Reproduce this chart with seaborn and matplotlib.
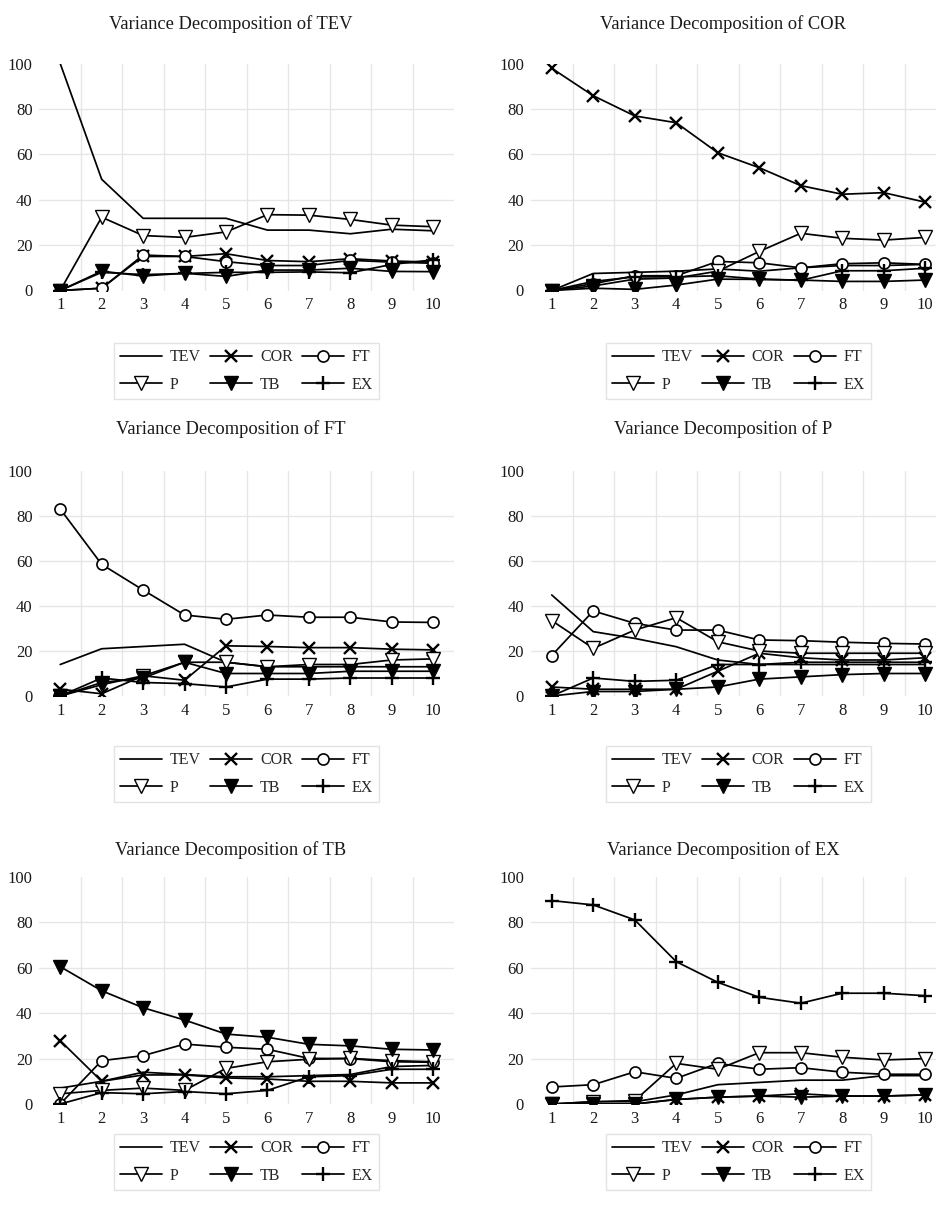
import matplotlib
matplotlib.use("Agg")
import matplotlib.pyplot as plt
import seaborn as sns

# ======================================================
# Data
# ======================================================

periods = [1, 2, 3, 4, 5, 6, 7, 8, 9, 10]
series = ["TEV", "COR", "FT", "P", "TB", "EX"]

vd_tev = {
    "TEV": [100, 49, 31.8, 31.8, 31.8, 26.6, 26.6, 25, 27, 26.3],
    "COR": [0, 1, 15, 15, 16.2, 13.2, 12.7, 14, 13, 12.5],
    "FT":  [0, 1, 15.6, 15, 12.7, 11, 11, 13.3, 12.5, 12],
    "P":   [0, 32.3, 24.2, 23.4, 25.8, 33.4, 33.2, 31.3, 28.8, 28.1],
    "TB":  [0, 8.5, 6.4, 7.6, 6.2, 9, 9, 9.8, 8.4, 8.3],
    "EX":  [0, 8, 7, 7.5, 8, 8, 8.2, 7.8, 11.5, 13.5],
}

vd_cor = {
    "TEV": [0, 7.5, 8, 8.5, 9.5, 8.5, 10, 11, 11, 11.5],
    "COR": [97.9, 85.8, 76.9, 73.9, 60.7, 54.1, 46.2, 42.4, 43.1, 38.9],
    "FT":  [0, 3, 6.5, 6.5, 12.8, 12.2, 10, 11.8, 12.2, 11.5],
    "P":   [0, 2, 5, 5.5, 8.5, 17.2, 25.2, 23, 22.2, 23.4],
    "TB":  [0, 1, 0.5, 2.4, 5, 4.9, 4.6, 4, 4, 4.6],
    "EX":  [0, 4, 6, 6, 6.5, 5, 4.5, 8.7, 8.7, 9.8],
}

vd_ft = {
    "TEV": [14, 21, 22, 23, 15, 13, 13, 13, 13, 13],
    "COR": [3, 1, 9, 7, 22.3, 22, 21.5, 21.5, 20.8, 20.5],
    "FT":  [83.1, 58.5, 47.1, 36, 34.1, 36, 35, 35, 32.9, 32.7],
    "P":   [0, 5, 9, 15, 15, 13, 14, 14, 16, 16.5],
    "TB":  [0, 6, 8, 15, 10, 10, 10, 11, 11, 11],
    "EX":  [0, 8, 6, 5.5, 4, 7.5, 7.5, 8, 8, 8],
}

vd_p = {
    "TEV": [44.9, 28.6, 25.6, 21.9, 16, 14, 14, 14, 14, 14],
    "COR": [4, 3, 3, 3, 11, 19, 17, 16, 16, 17],
    "FT":  [18, 37.8, 32.3, 29.3, 29.3, 24.9, 24.6, 23.9, 23.4, 23.1],
    "P":   [33.5, 21.2, 29.3, 34.8, 24.1, 20, 19, 19, 19, 19],
    "TB":  [0, 2, 2, 3, 4, 7.5, 8.5, 9.5, 10, 10],
    "EX":  [0, 8, 6.5, 7, 14, 14, 15, 15, 15, 15],
}

vd_tb = {
    "TEV": [7, 10, 14, 13, 12, 12, 12.5, 13, 16.5, 17],
    "COR": [27.9, 10, 12.8, 12.8, 11.5, 11, 10, 10, 9.3, 9.3],
    "FT":  [0, 19.1, 21.3, 26.4, 25, 24.1, 20.1, 20, 18.6, 18.4],
    "P":   [4.5, 6, 7, 6, 15.7, 18.6, 19.7, 20.1, 19.1, 18.6],
    "TB":  [60.5, 49.9, 42.4, 37, 30.8, 29.4, 26.3, 25.6, 24.1, 23.8],
    "EX":  [0, 5, 4.5, 5.5, 4.5, 6, 12, 12.5, 15.3, 15.3],
}

vd_ex = {
    "TEV": [0, 1, 1, 4, 8.5, 9.5, 10.5, 10.5, 12.5, 12.5],
    "COR": [0, 0, 0, 2, 3, 3.5, 4.5, 3.5, 3.5, 4],
    "FT":  [7.5, 8.5, 14.2, 11.3, 17.9, 15.3, 16, 14, 13.1, 13.1],
    "P":   [0, 1, 1.5, 17.9, 15.3, 22.6, 22.6, 20.6, 19.4, 20],
    "TB":  [0, 0, 0, 2, 3, 3.5, 3, 3.5, 3.5, 4],
    "EX":  [89.6, 87.7, 81.1, 62.7, 53.6, 47, 44.4, 48.8, 48.8, 47.7],
}

panels = [
    ("TEV", vd_tev), ("COR", vd_cor),
    ("FT", vd_ft), ("P", vd_p),
    ("TB", vd_tb), ("EX", vd_ex),
]

# ======================================================
# Styles
# ======================================================

sns.set_theme(style="white")
plt.rcParams["font.family"] = ["Liberation Serif", "DejaVu Serif"]

line_styles = {
    "TEV": dict(marker=None),
    "COR": dict(marker="x", markersize=8, markeredgewidth=1.7),
    "FT":  dict(marker="o", markersize=8, markerfacecolor="white", markeredgewidth=1.2),
    "P":   dict(marker="v", markersize=9.5, markerfacecolor="white", markeredgewidth=1.0),
    "TB":  dict(marker="v", markersize=9.5, markerfacecolor="black", markeredgewidth=1.0),
    "EX":  dict(marker="+", markersize=10, markeredgewidth=1.7),
}

W, H = 937, 1205
fig = plt.figure(figsize=(W / 100, H / 100), dpi=100)

# pixel layout: columns (left, right of plot area), rows (top, bottom, title baseline, legend top)
cols = [(39.5, 454), (531, 946)]
title_x = [231, 723]
rows = [
    (63.5, 290.5, 29, 335),
    (471, 696, 434, 738),
    (877, 1104, 855, 1126),
]

for i, (name, data) in enumerate(panels):
    r, c = divmod(i, 2)
    left, right = cols[c]
    top, bottom, t_y, leg_y = rows[r]

    ax = fig.add_axes([left / W, 1 - bottom / H, (right - left) / W, (bottom - top) / H])

    for s in series:
        sns.lineplot(
            x=periods,
            y=data[s],
            ax=ax,
            color="black",
            linewidth=1.25,
            markeredgecolor="black",
            label=s,
            **line_styles[s]
        )

    ax.set_xlim(0.5, 10.5)
    ax.set_ylim(0, 100)
    ax.set_xticks(periods)
    ax.set_yticks([0, 20, 40, 60, 80, 100])

    for yv in [20, 40, 60, 80]:
        ax.axhline(yv, color="#e6e6e6", linewidth=1, zorder=0)
    for xv in [1.5, 2.5, 3.5, 4.5, 5.5, 6.5, 7.5, 8.5, 9.5]:
        ax.axvline(xv, color="#e6e6e6", linewidth=1, zorder=0)

    sns.despine(ax=ax, left=True, bottom=True)
    ax.tick_params(length=0, labelsize=12, colors="#1a1a1a")
    ax.tick_params(axis="y", pad=5)
    ax.tick_params(axis="x", pad=5)
    ax.set_xlabel("")
    ax.set_ylabel("")

    handles = {l.get_label(): l for l in ax.get_lines() if l.get_label() in series}
    order = ["TEV", "P", "COR", "TB", "FT", "EX"]
    leg_off = (leg_y - bottom) / (bottom - top)
    leg = ax.legend(
        [handles[k] for k in order],
        order,
        ncol=3,
        loc="upper center",
        bbox_to_anchor=(0.5, -leg_off),
        frameon=True,
        fancybox=False,
        edgecolor="#dddddd",
        fontsize=11.5,
        handlelength=2.6,
        handletextpad=0.5,
        columnspacing=0.6,
        labelspacing=0.7,
        borderpad=0.4,
    )
    leg.get_frame().set_linewidth(1.0)

    fig.text(title_x[c] / W, 1 - t_y / H, "Variance Decomposition of " + name,
             ha="center", va="baseline", fontsize=13.3, color="#1a1a1a")

plt.savefig("out.png", dpi=100)
